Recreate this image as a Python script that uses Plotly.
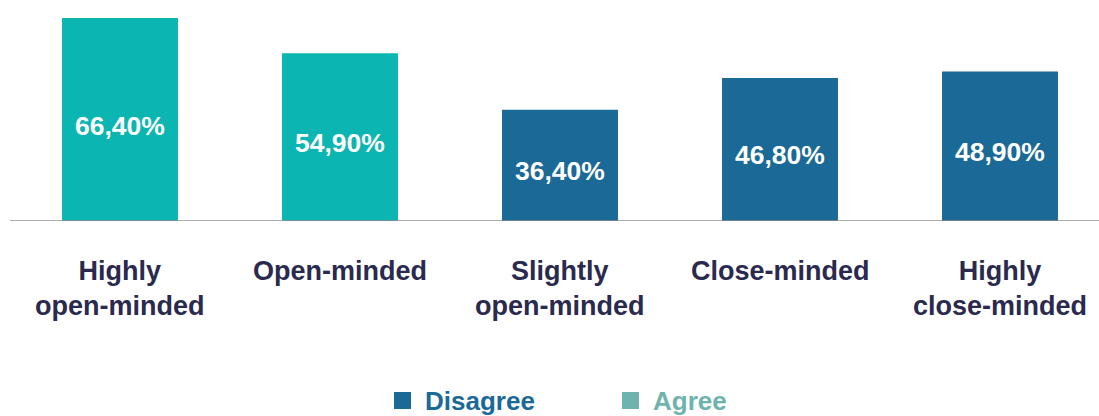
import plotly.graph_objects as go

# Survey results by mindset
categories = ["Highly<br>open-minded", "Open-minded", "Slightly<br>open-minded",
              "Close-minded", "Highly<br>close-minded"]
values = [66.4, 54.9, 36.4, 46.8, 48.9]
groups = ["Agree", "Agree", "Disagree", "Disagree", "Disagree"]

legend_items = ["Disagree", "Agree"]

BAR_COLORS = {"Agree": "#0bb5b1", "Disagree": "#1b6996"}
LEGEND_COLORS = {"Agree": "#6fb3af", "Disagree": "#1b6996"}
LABEL_COLOR = "#2a2a4e"
FONT = "Liberation Sans, Arial, Helvetica, sans-serif"

W, H = 1099, 416
M_L, M_R, M_T, M_B = 10, 0, 0, 195
PW, PH = W - M_L - M_R, H - M_T - M_B


def px_x(x):
    return (x - M_L) / PW


def px_y(y):
    return (H - M_B - y) / PH


xs = list(range(len(categories)))

fig = go.Figure()
fig.add_trace(go.Bar(
    x=xs, y=values,
    marker=dict(color=[BAR_COLORS[g] for g in groups], line=dict(width=0)),
    width=0.527,
    showlegend=False,
    hoverinfo="skip",
))

annotations = []
# value labels inside bars
for x, v in zip(xs, values):
    txt = f"{v:.2f}".replace(".", ",") + "%"
    annotations.append(dict(
        x=x, y=v / 2, xref="x", yref="y", text=txt, showarrow=False,
        yanchor="middle", yshift=-6,
        font=dict(family=FONT, size=26.5, color="white", weight="bold"),
    ))
# category labels under the axis
for x, c in zip(xs, categories):
    annotations.append(dict(
        x=x, y=0, xref="x", yref="paper", text=c, showarrow=False,
        yanchor="top", yshift=-33,
        font=dict(family=FONT, size=27, color=LABEL_COLOR, weight="bold"),
    ))

# custom legend
shapes = [dict(type="line", xref="paper", yref="y", x0=0, x1=1, y0=0, y1=0,
               line=dict(color="#8f8f8f", width=1.5))]
legend_pos = {"Disagree": 394, "Agree": 622}
for name in legend_items:
    x0 = legend_pos[name]
    shapes.append(dict(type="rect", xref="paper", yref="paper",
                       x0=px_x(x0), x1=px_x(x0 + 17),
                       y0=px_y(409), y1=px_y(392),
                       fillcolor=LEGEND_COLORS[name], line=dict(width=0)))
    annotations.append(dict(
        x=px_x(x0 + 29), y=px_y(401), xref="paper", yref="paper",
        xanchor="left", yanchor="middle", text=name, showarrow=False,
        font=dict(family=FONT, size=26, color=LEGEND_COLORS[name], weight="bold"),
    ))

fig.update_layout(
    width=W, height=H,
    margin=dict(l=M_L, r=M_R, t=M_T, b=M_B),
    paper_bgcolor="white", plot_bgcolor="white",
    xaxis=dict(range=[-0.5, 4.45], visible=False, fixedrange=True),
    yaxis=dict(range=[0, 72.3], visible=False, fixedrange=True),
    annotations=annotations,
    shapes=shapes,
    showlegend=False,
)

fig.write_html("out.html", config={"displayModeBar": False})
